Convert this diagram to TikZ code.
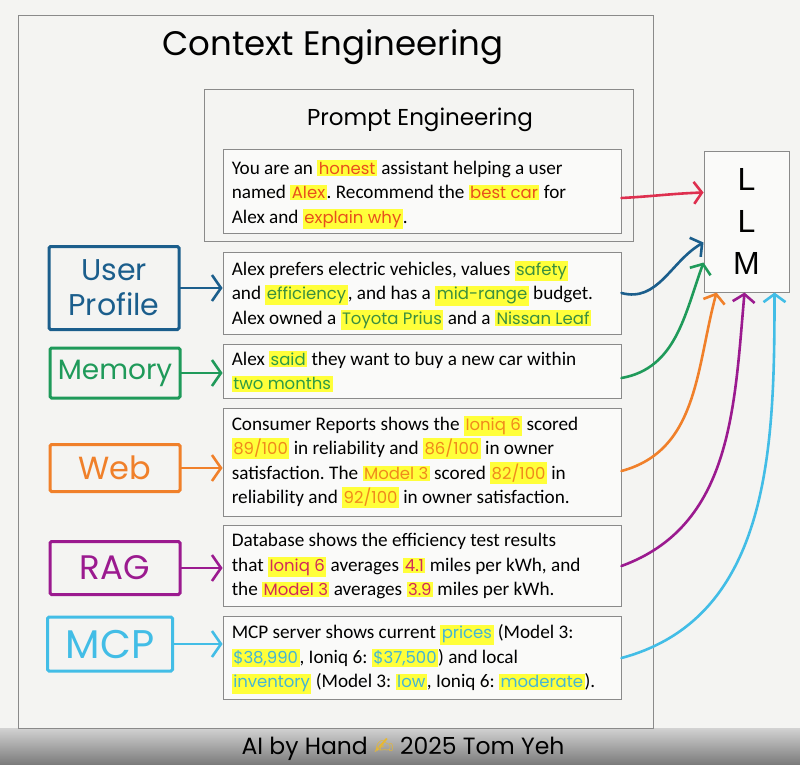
\documentclass[tikz,border=0pt]{standalone}
\usepackage{fontspec}
\setmainfont{Carlito}
\newfontfamily\hand{Poppins}
\newfontfamily\llmfont{Liberation Sans}
\newfontfamily\symfont{DejaVu Sans}
\usetikzlibrary{arrows.meta}
\frenchspacing
\definecolor{bg}{HTML}{F4F4F2}
\definecolor{boxfill}{HTML}{FAFAF9}
\definecolor{framec}{HTML}{8A8A8A}
\definecolor{bandtop}{HTML}{D2D2D2}
\definecolor{bandbot}{HTML}{7A7A7A}
\definecolor{hly}{HTML}{FFFF3A}
\definecolor{ublue}{HTML}{1B5E8C}
\definecolor{mgreen}{HTML}{1F9A5A}
\definecolor{worange}{HTML}{F0802A}
\definecolor{rpurple}{HTML}{9B1A8F}
\definecolor{mcyan}{HTML}{42BDE6}
\definecolor{pred}{HTML}{DE2F4F}
\definecolor{prt}{HTML}{E8501C}
\definecolor{upg}{HTML}{3B8F3F}
\definecolor{memg}{HTML}{2E9A45}
\definecolor{webo}{HTML}{F08A1C}
\definecolor{ragr}{HTML}{D22A5A}
\definecolor{mcpc}{HTML}{45B5D5}
\definecolor{gold}{HTML}{E8B830}
\newcommand{\hl}[2]{\smash{\setlength{\fboxsep}{1.5pt}\colorbox{hly}{\hand\fontsize{16.5}{17}\selectfont\textcolor{#1}{#2}}}}
\tikzset{
  frame/.style={draw=framec, line width=1pt, inner sep=0pt},
  txtbox/.style={draw=framec, line width=0.9pt, fill=boxfill, minimum width=398pt, inner sep=0pt},
  txt/.style={anchor=west, inner sep=0pt, align=left, font=\fontsize{19.2}{24.5}\selectfont},
  lab/.style={draw=#1, text=#1, line width=3pt, rounded corners=1.5pt, minimum width=130pt,
    align=center, inner sep=0pt},
  labarr/.style={draw=#1, line width=2.6pt, line cap=round, line join=round,
    -{Straight Barb[length=9pt,width=26pt]}},
  llmarr/.style={draw=#1, line width=2.6pt, line cap=round, line join=round,
    -{Straight Barb[length=8pt,width=22pt]}}
}
\begin{document}
\begin{tikzpicture}[x=1pt,y=-1pt]
\useasboundingbox (0,0) rectangle (800,765);
\fill[bg] (0,0) rectangle (800,765);
\shade[top color=bandtop,bottom color=bandbot] (0,728) rectangle (800,765);
% frames
\node[frame, minimum width=635pt, minimum height=713pt, anchor=north west] (ctx) at (18,15) {};
\node[font=\hand\fontsize{34}{40}\selectfont] (title) at (333,47) {Context Engineering};
\node[frame, minimum width=429pt, minimum height=152pt, anchor=north west] (pe) at (204,89) {};
\node[font=\hand\fontsize{23}{28}\selectfont] (pet) at (420,120) {Prompt Engineering};
% text boxes
\node[txtbox, minimum height=84pt] (pbox) at (422,191) {};
\node[txt] (pboxt) at ([xshift=9pt,yshift=-1pt]pbox.west) {You are an \hl{prt}{honest} assistant helping a user\\
named \hl{prt}{Alex}. Recommend the \hl{prt}{best car} for\\
Alex and \hl{prt}{explain why}.};
\node[txtbox, minimum height=82pt] (upt) at (422,293) {};
\node[txt] (uptt) at ([xshift=9pt]upt.west) {Alex prefers electric vehicles, values \hl{upg}{safety}\\
and \hl{upg}{efficiency}, and has a \hl{upg}{mid-range} budget.\\
Alex owned a \hl{upg}{Toyota Prius} and a \hl{upg}{Nissan Leaf}};
\node[txtbox, minimum height=54pt] (memt) at (422,371) {};
\node[txt] (memtt) at ([xshift=9pt]memt.west) {Alex \hl{memg}{said} they want to buy a new car within\\
\hl{memg}{two months}};
\node[txtbox, minimum height=108pt] (webt) at (422,462) {};
\node[txt] (webtt) at ([xshift=9pt]webt.west) {Consumer Reports shows the \hl{webo}{Ioniq 6} scored\\
\hl{webo}{89/100} in reliability and \hl{webo}{86/100} in owner\\
satisfaction. The \hl{webo}{Model 3} scored \hl{webo}{82/100} in\\
reliability and \hl{webo}{92/100} in owner satisfaction.};
\node[txtbox, minimum height=81pt] (ragt) at (422,566) {};
\node[txt] (ragtt) at ([xshift=9pt]ragt.west) {Database shows the efficiency test results\\
that \hl{ragr}{Ioniq 6} averages \hl{ragr}{4.1} miles per kWh, and\\
the \hl{ragr}{Model 3} averages \hl{ragr}{3.9} miles per kWh.};
\node[txtbox, minimum height=83pt] (mcpt) at (422,658) {};
\node[txt] (mcptt) at ([xshift=9pt]mcpt.west) {MCP server shows current \hl{mcpc}{prices} (Model 3:\\
\hl{mcpc}{\$38,990}, Ioniq 6: \hl{mcpc}{\$37,500}) and local\\
\hl{mcpc}{inventory} (Model 3: \hl{mcpc}{low}, Ioniq 6: \hl{mcpc}{moderate}).};
% labels
\node[lab=ublue, minimum height=83pt, font=\hand\fontsize{30}{35}\selectfont] (up) at (114,288) {User\\Profile};
\node[lab=mgreen, minimum height=50pt, font=\hand\fontsize{28}{32}\selectfont] (mem) at (115,373) {Memory};
\node[lab=worange, minimum height=47pt, font=\hand\fontsize{32}{36}\selectfont] (web) at (115,468) {Web};
\node[lab=rpurple, minimum height=53pt, font=\hand\fontsize{34}{38}\selectfont] (rag) at (115,568) {RAG};
\node[lab=mcyan, minimum width=125pt, minimum height=54pt, font=\hand\fontsize{40}{44}\selectfont] (mcp) at (110,644) {MCP};
% LLM
\node[draw=framec, line width=1pt, fill=boxfill, minimum width=85pt, minimum height=141pt,
  align=center, font=\llmfont\fontsize{32}{42}\selectfont] (llm) at (746.5,221.5) {L\\L\\M};
% label arrows
\draw[labarr=ublue] (up.east) -- (up.east -| upt.west);
\draw[labarr=mgreen] (mem.east) -- (mem.east -| memt.west);
\draw[labarr=worange] (web.east) -- (web.east -| webt.west);
\draw[labarr=rpurple] (rag.east) -- (rag.east -| ragt.west);
\draw[labarr=mcyan] (mcp.east) -- (mcp.east -| mcpt.west);
% arrows to LLM
\coordinate (tR) at ([yshift=-42pt]llm.north west);
\coordinate (tB) at ([yshift=-92pt]llm.north west);
\coordinate (tG) at ([yshift=-112pt]llm.north west);
\coordinate (tO) at ([xshift=13pt]llm.south west);
\coordinate (tP) at ([xshift=41pt]llm.south west);
\coordinate (tC) at ([xshift=71pt]llm.south west);
\draw[llmarr=pred] ([yshift=-7pt]pbox.east) to[out=3,in=182] (tR);
\draw[llmarr=ublue] (upt.east) to[out=-15,in=210] (tB);
\draw[llmarr=mgreen] ([yshift=-7pt]memt.east) to[out=10,in=250] (tG);
\draw[llmarr=worange] ([yshift=-9pt]webt.east) to[out=15,in=255] (tO);
\draw[llmarr=rpurple] (ragt.east) to[out=20,in=265] (tP);
\draw[llmarr=mcyan] (mcpt.east) to[out=15,in=270] (tC);
% footer
\node[font=\hand\fontsize{23.5}{27}\selectfont] (foot) at (403,749) {AI by Hand {\symfont\color{gold}✍} 2025 Tom Yeh};
\end{tikzpicture}
\end{document}
